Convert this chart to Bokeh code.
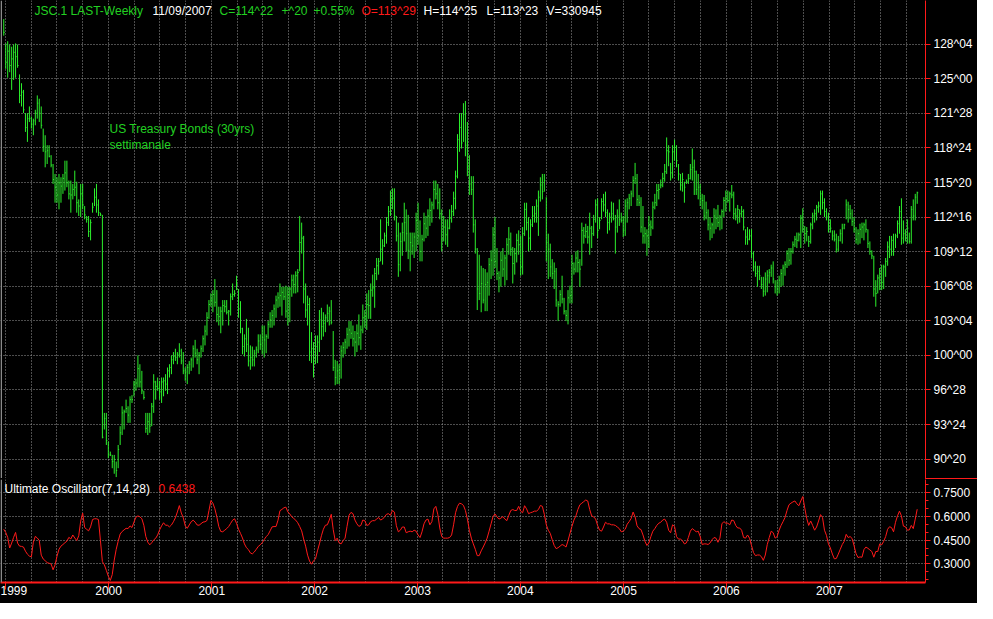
import pandas as pd
from bokeh.plotting import figure
from bokeh.layouts import column, row
from bokeh.models import Range1d, FixedTicker, Label, BoxAnnotation, Grid, ColumnDataSource, Spacer
from bokeh.embed import file_html
from bokeh.resources import INLINE

# ---------------- data (weekly bars, 25 Dec 1998 .. 9 Nov 2007) ----------------
high = [
130.4,128.2,128.4,128.1,127.9,128.1,128.2,128.1,125.4,124.6,
124.0,121.9,121.9,122.5,121.6,121.4,122.2,123.5,123.2,122.5,
120.5,119.9,119.0,119.0,118.1,117.3,116.4,116.1,116.4,116.1,
116.4,117.6,117.6,115.8,115.8,115.5,116.7,115.7,114.1,115.5,
115.5,113.5,112.6,112.6,112.3,113.8,115.1,115.5,114.1,112.9,
112.7,94.8,94.8,92.2,91.3,91.0,91.0,90.4,91.9,93.6,
95.4,95.1,96.0,95.4,96.3,96.4,97.7,97.9,100.0,99.2,
98.6,96.8,94.8,94.8,94.8,95.7,98.3,97.7,98.0,97.7,
98.0,98.0,98.3,98.9,99.2,100.0,100.3,100.6,100.3,101.1,
100.6,100.3,98.9,99.2,99.5,99.8,100.9,101.4,100.6,100.3,
100.9,101.8,102.7,103.9,105.0,105.6,105.9,106.9,105.9,104.4,
104.4,105.0,105.0,105.0,104.1,105.6,106.5,105.9,107.2,106.0,
104.9,102.5,101.9,103.3,102.5,100.9,100.8,100.5,100.8,101.9,
101.9,102.7,102.7,101.9,103.1,103.9,104.1,104.6,105.4,105.7,
106.5,106.2,106.2,106.3,106.2,106.2,107.3,107.3,107.6,107.8,
112.6,112.0,110.8,106.5,105.4,105.2,102.1,101.2,101.8,101.8,
104.1,104.3,103.9,103.7,104.6,104.4,105.0,102.2,99.6,99.5,
99.2,100.9,101.2,101.5,102.5,103.1,103.1,102.7,102.2,102.8,
103.7,102.7,104.6,104.1,105.6,105.9,106.5,107.3,107.9,108.8,
108.8,112.3,110.5,111.1,112.5,113.5,114.9,115.1,115.1,112.6,
112.0,111.1,112.0,113.8,113.2,112.7,111.1,111.1,111.1,112.9,
113.8,112.2,110.9,112.9,112.6,113.2,114.2,113.9,115.8,115.8,
115.5,115.1,113.2,112.6,112.3,112.3,113.2,113.6,114.8,116.7,
120.0,121.9,121.9,122.8,123.0,121.1,118.1,116.2,116.2,112.3,
109.7,109.1,108.1,107.9,107.8,107.5,108.8,109.5,111.6,112.5,
109.7,107.6,109.4,109.7,109.1,110.6,111.6,111.1,109.8,109.7,
111.0,111.3,110.8,111.6,113.8,113.8,112.5,112.3,113.5,113.5,
114.1,114.9,116.1,116.4,116.4,114.3,111.0,110.1,108.7,108.4,
107.9,104.9,105.9,107.2,105.2,104.1,105.9,106.3,109.1,108.4,
109.4,109.5,108.7,112.0,111.6,111.9,111.7,112.9,111.7,112.7,
114.1,114.2,112.5,114.2,114.6,114.8,113.2,112.9,113.9,113.8,
112.7,113.2,114.1,112.9,112.6,114.1,114.2,114.6,114.9,116.2,
117.4,116.4,114.5,114.3,113.5,111.6,111.4,112.6,112.2,113.9,
114.6,115.5,115.5,115.9,116.5,117.3,119.7,119.0,117.4,119.0,
119.5,119.0,117.3,116.4,116.5,115.7,115.9,116.4,117.3,118.7,
117.7,116.7,116.4,115.5,114.6,114.5,113.9,113.2,112.5,112.0,
113.3,113.2,113.6,112.7,113.2,114.3,114.9,114.9,114.8,115.4,
114.8,113.3,113.6,113.2,113.5,113.2,111.4,111.6,111.4,111.4,
109.4,108.5,108.1,108.1,107.1,107.1,107.5,107.7,107.8,108.2,
108.5,106.8,106.8,107.2,107.8,108.2,108.5,109.5,109.7,109.7,
110.3,110.8,111.1,111.1,112.7,113.3,111.7,111.6,110.8,112.0,
112.9,113.2,113.6,113.9,114.9,114.9,114.2,113.3,112.9,112.3,
111.3,111.3,111.0,110.8,111.4,111.9,111.9,114.1,113.9,113.6,
113.2,112.5,111.6,111.4,111.9,112.0,112.0,112.3,111.4,110.3,
109.5,109.0,106.8,107.3,107.9,108.2,108.2,108.8,110.3,110.8,
110.8,111.0,111.0,112.2,113.5,114.2,112.2,111.4,112.3,111.1,
113.5,114.1,114.6,114.8,
]

low = [
128.9,125.9,125.1,125.6,124.0,124.9,125.1,126.0,122.8,122.5,
121.9,120.2,119.3,121.1,120.5,119.9,120.8,121.4,121.1,120.5,
118.4,117.0,117.3,117.9,117.0,115.5,113.8,113.8,113.2,113.8,
114.6,114.9,115.2,114.1,112.9,114.1,114.4,112.9,112.6,112.5,
113.2,112.3,112.0,110.7,110.4,112.9,113.5,112.9,112.6,112.6,
92.5,93.3,91.9,90.7,90.9,89.8,89.3,89.0,89.8,91.9,
92.8,93.3,94.8,93.9,93.9,95.7,96.3,96.8,97.1,97.1,
96.5,96.0,93.0,92.8,93.0,93.6,94.8,96.0,96.8,96.0,
95.7,96.3,96.8,96.5,98.0,98.3,99.2,99.5,99.2,99.8,
99.2,98.3,97.7,97.4,98.3,98.6,98.9,99.8,99.2,98.3,
99.8,100.3,100.9,101.8,103.3,104.4,103.9,104.4,103.0,102.7,
102.0,102.7,103.9,103.7,102.7,103.6,105.0,105.3,105.9,103.4,
102.0,100.1,99.9,100.3,99.0,98.7,99.0,99.0,99.8,100.2,
100.5,100.1,99.8,100.2,101.5,102.5,102.5,102.7,103.4,104.3,
104.4,103.6,105.0,103.4,102.7,103.0,105.3,105.6,105.6,105.7,
107.6,109.2,104.7,103.4,102.7,99.5,99.3,98.0,99.2,99.3,
100.3,101.4,101.7,102.1,103.0,102.7,102.8,98.6,97.3,97.4,
97.4,97.9,99.8,100.1,100.6,100.8,101.5,100.8,99.9,100.3,
100.9,100.5,102.0,102.5,102.3,103.3,103.3,105.3,104.3,106.8,
107.3,108.5,108.2,109.8,110.1,111.7,112.6,113.2,112.2,110.3,
107.1,107.6,109.0,110.3,109.4,108.7,107.6,109.1,108.8,109.4,
110.0,108.5,108.5,110.3,110.6,110.8,111.7,112.0,113.2,114.1,
113.2,112.3,109.4,110.3,110.0,109.8,111.4,112.0,112.6,113.2,
116.0,118.4,118.7,119.3,118.0,116.2,114.5,114.5,111.1,109.2,
104.1,105.0,103.9,104.7,104.0,104.0,105.4,106.9,107.2,107.9,
106.8,105.7,106.2,107.1,106.3,106.8,109.1,109.0,106.5,107.3,
108.4,109.1,107.2,107.3,110.8,111.3,109.4,109.5,111.6,112.0,
112.0,110.8,113.9,114.1,114.8,108.5,106.9,107.1,106.9,106.0,
104.4,103.1,104.4,104.7,103.7,103.1,102.8,104.7,104.7,107.3,
107.5,107.5,106.2,108.1,110.1,110.6,110.1,109.1,109.7,110.8,
112.0,110.6,111.4,112.3,113.0,112.5,111.0,111.3,112.0,112.2,
109.2,111.1,111.7,112.0,110.7,110.8,112.0,113.2,113.5,114.3,
115.5,113.5,113.5,111.1,110.1,110.1,109.0,109.7,110.8,111.4,
113.2,113.5,114.1,115.1,115.2,115.7,116.4,117.1,115.8,116.0,
117.6,117.0,115.8,114.9,114.8,113.8,115.5,115.5,115.9,115.8,
114.5,114.5,114.1,113.5,113.2,112.2,112.3,111.3,110.4,110.6,
111.0,111.4,111.6,111.3,111.4,112.5,113.0,113.8,113.0,114.2,
112.3,112.2,111.9,112.0,112.5,111.3,110.0,110.0,110.4,108.8,
107.6,107.1,106.2,106.8,106.0,105.3,105.4,105.7,106.5,107.1,
106.5,105.6,105.4,105.6,106.2,106.3,107.2,107.9,108.1,108.2,
109.2,109.8,109.7,110.3,109.7,111.1,110.1,110.3,109.8,110.1,
111.4,112.0,112.2,112.9,112.7,113.2,112.5,112.2,111.1,111.1,
110.4,110.3,109.3,109.4,110.3,110.1,111.4,112.3,112.0,112.3,
111.7,111.1,110.1,110.0,110.1,110.6,110.4,111.1,109.7,109.1,
108.7,105.3,104.4,105.6,105.9,105.9,106.0,107.1,108.1,108.8,
109.0,109.0,109.7,110.6,111.0,110.0,110.1,110.3,110.1,110.1,
110.1,112.2,112.2,113.7,
]

close = [
129.2,126.5,127.5,126.2,126.8,127.4,127.0,126.2,123.5,123.8,
122.2,120.6,121.4,121.4,120.9,121.2,121.9,122.8,121.9,120.8,
118.9,118.4,118.5,118.0,117.2,115.9,115.2,114.5,115.6,115.3,
116.0,116.5,115.6,114.6,114.5,115.0,115.2,113.8,113.5,114.6,
113.6,112.7,112.3,111.2,112.0,113.4,114.3,113.6,112.9,112.7,
92.6,94.3,92.3,91.0,91.0,90.4,90.6,89.6,91.5,93.0,
94.8,94.9,95.2,94.6,96.0,96.0,97.4,97.5,98.8,97.6,
96.8,96.2,93.4,94.0,93.6,95.4,97.6,97.2,97.0,96.7,
97.6,97.7,97.4,98.6,98.9,99.6,99.9,99.8,100.1,100.4,
99.5,98.6,98.5,98.9,99.2,99.6,100.6,100.2,99.6,100.0,
100.6,101.5,102.2,103.4,104.6,105.0,105.5,104.8,103.7,103.5,
104.0,104.5,104.4,103.9,104.0,105.3,105.5,105.6,106.4,104.2,
102.4,100.8,101.5,101.0,99.5,99.8,99.6,100.2,100.5,101.3,
101.0,101.6,101.4,101.7,102.8,103.2,103.6,104.2,105.0,105.2,
105.4,105.7,105.3,104.0,105.5,106.0,106.8,106.4,107.2,107.5,
110.2,110.6,106.0,104.1,104.6,100.3,100.6,99.8,100.8,101.2,
103.2,102.6,102.9,103.4,103.8,104.0,103.0,98.9,98.0,98.6,
98.7,100.4,100.7,101.2,101.9,102.3,102.0,101.5,101.2,102.0,
101.6,102.3,103.4,103.5,104.6,104.5,105.9,106.1,107.4,108.1,
108.5,109.6,109.9,110.8,112.0,113.0,114.0,114.2,112.6,110.8,
108.2,110.3,111.1,112.0,111.0,109.5,110.2,109.9,110.7,112.2,
110.8,109.4,110.5,111.9,111.5,112.6,113.1,113.6,115.0,114.6,
113.8,112.8,110.5,111.6,110.9,111.5,112.4,113.0,114.2,116.2,
119.5,120.6,119.2,121.8,119.0,117.0,115.5,115.0,111.8,109.6,
106.0,105.6,106.5,105.0,106.4,106.6,108.2,108.6,110.9,108.5,
107.4,107.0,108.6,107.8,108.8,110.0,110.5,109.6,108.3,109.2,
110.4,110.0,108.0,111.0,113.2,112.0,110.6,111.8,112.6,112.8,
113.5,114.3,115.4,114.8,115.8,110.2,109.6,108.0,107.4,107.6,
105.0,104.6,105.5,105.1,104.0,103.6,105.2,105.4,108.3,107.8,
108.8,108.4,107.8,111.3,110.8,111.2,110.7,111.5,111.0,112.3,
113.6,111.3,112.2,113.9,113.6,112.9,112.0,112.5,112.8,112.4,
111.6,112.6,112.3,112.2,111.3,113.5,113.8,114.2,114.6,115.8,
116.0,114.1,113.8,111.6,110.8,111.0,110.8,111.8,111.6,113.4,
113.8,114.9,115.0,115.4,116.0,116.6,118.5,118.4,116.5,118.4,
118.8,117.6,116.4,115.4,115.9,115.2,115.7,116.0,116.8,117.0,
116.6,115.0,115.2,114.2,114.0,112.6,112.9,111.8,111.5,111.8,
112.6,112.4,112.0,112.5,113.0,114.0,114.2,114.0,114.6,114.5,
112.8,112.6,113.2,112.8,113.0,111.6,110.7,110.5,110.8,109.2,
108.0,107.4,107.6,107.2,106.4,105.8,106.9,107.2,107.5,107.9,
106.9,106.2,106.0,106.8,107.4,107.9,108.2,109.2,108.6,109.4,
110.0,110.5,110.4,110.9,112.4,111.4,111.0,111.2,110.3,111.8,
112.6,112.8,113.4,113.5,114.6,113.8,113.0,112.5,111.6,111.5,
110.8,110.5,109.6,110.4,111.0,111.5,111.8,113.6,113.2,112.8,
112.1,111.4,110.5,111.0,111.4,111.6,111.8,111.4,110.1,109.4,
109.0,106.0,105.6,107.0,107.4,106.6,108.0,108.5,109.8,109.6,
110.4,109.6,110.8,111.9,113.0,110.6,111.0,110.6,111.5,110.3,
113.2,112.6,114.3,114.7,
]

ult_osc = [
.518,.498,.467,.400,.431,.467,.498,.431,.412,.410,
.406,.380,.361,.349,.345,.437,.473,.463,.447,.355,
.331,.320,.308,.304,.300,.263,.294,.349,.392,.412,
.422,.433,.443,.467,.457,.482,.463,.447,.477,.569,
.620,.529,.518,.508,.533,.579,.584,.584,.579,.447,
.314,.294,.259,.222,.196,.233,.324,.392,.443,.488,
.504,.514,.524,.522,.539,.529,.563,.594,.602,.596,
.584,.543,.473,.437,.420,.433,.451,.461,.482,.514,
.539,.559,.543,.543,.533,.545,.565,.590,.627,.667,
.620,.590,.539,.524,.545,.565,.575,.563,.545,.543,
.553,.563,.565,.573,.635,.698,.682,.647,.596,.535,
.504,.502,.512,.522,.535,.555,.575,.584,.555,.518,
.492,.463,.426,.402,.390,.369,.363,.375,.392,.410,
.420,.433,.453,.471,.484,.508,.533,.535,.535,.575,
.635,.643,.653,.657,.627,.614,.596,.586,.575,.559,
.535,.508,.457,.412,.355,.318,.298,.320,.331,.382,
.426,.477,.518,.543,.546,.576,.612,.516,.446,.462,
.432,.426,.446,.462,.536,.606,.624,.616,.576,.552,
.536,.542,.576,.572,.542,.546,.566,.572,.572,.582,
.592,.576,.582,.596,.612,.616,.606,.636,.626,.540,
.502,.512,.532,.532,.496,.502,.506,.502,.512,.506,
.482,.466,.502,.552,.576,.582,.546,.566,.646,.662,
.612,.526,.472,.462,.462,.462,.466,.482,.546,.622,
.662,.682,.678,.668,.636,.582,.512,.462,.426,.392,
.352,.352,.382,.406,.432,.462,.506,.552,.598,.614,
.596,.582,.588,.598,.582,.572,.606,.636,.642,.636,
.636,.662,.632,.622,.666,.646,.616,.622,.626,.632,
.632,.642,.668,.662,.612,.546,.512,.492,.452,.416,
.396,.402,.412,.422,.416,.406,.446,.492,.536,.576,
.602,.642,.672,.682,.692,.702,.696,.642,.602,.596,
.582,.542,.512,.506,.532,.562,.552,.552,.546,.546,
.542,.532,.522,.502,.506,.518,.550,.566,.586,.626,
.596,.540,.522,.516,.482,.442,.416,.432,.472,.506,
.522,.542,.556,.562,.576,.582,.562,.512,.496,.546,
.536,.472,.456,.456,.446,.426,.432,.466,.506,.522,
.512,.502,.506,.472,.422,.426,.426,.422,.432,.452,
.466,.462,.436,.462,.552,.566,.556,.556,.546,.576,
.572,.542,.526,.526,.512,.466,.462,.482,.462,.416,
.372,.352,.356,.356,.346,.322,.356,.422,.466,.506,
.496,.462,.472,.512,.542,.566,.592,.636,.672,.682,
.690,.696,.678,.666,.696,.724,.652,.586,.542,.570,
.542,.512,.532,.570,.610,.592,.512,.480,.426,.400,
.362,.332,.334,.362,.392,.422,.442,.486,.466,.472,
.460,.414,.364,.340,.344,.342,.390,.406,.398,.388,
.378,.342,.378,.378,.426,.420,.442,.472,.518,.534,
.528,.502,.562,.602,.632,.602,.538,.534,.512,.514,
.542,.522,.582,.644,
]

price_ticks = [90.625, 93.75, 96.875, 100.0, 103.125, 106.25, 109.375,
               112.5, 115.625, 118.75, 121.875, 125.0, 128.125]
price_labels = ["90^20", "93^24", "96^28", "100^00", "103^04", "106^08", "109^12",
                "112^16", "115^20", "118^24", "121^28", "125^00", "128^04"]
osc_ticks = [0.30, 0.45, 0.60, 0.75]
osc_labels = ["0.3000", "0.4500", "0.6000", "0.7500"]
osc_minor = [0.20, 0.25, 0.35, 0.40, 0.50, 0.55, 0.65, 0.70, 0.80]
years = ["1999", "2000", "2001", "2002", "2003", "2004", "2005", "2006", "2007"]

assert len(high) == len(low) == len(close) == len(ult_osc) == 464

# ---------------- styling ----------------
GREEN = "#2cf02c"
TEXTGREEN = "#22d022"
RED = "#ff1a1a"
GRID = "#9a9a9a"
FONT = "Liberation Sans"
WEEK = 7 * 86400000.0

dates = pd.date_range(end="2007-11-09", periods=len(high), freq="7D")
t = (dates.values.astype("datetime64[ms]").astype("int64")).astype(float)
src = ColumnDataSource(dict(t=t, t2=t + 0.5 * WEEK, high=high, low=low, close=close, osc=ult_osc))

x_range = Range1d(t[0] - 1.65 * WEEK, t[0] + 467.2 * WEEK)

def ms(s):
    return float(pd.Timestamp(s).value // 10**6)

year_ticks = [ms(f"{y}-01-01") for y in years]
quarter_ticks = [float(v) for v in (pd.date_range("1999-01-01", "2007-10-01", freq="QS")
                                    .values.astype("datetime64[ms]").astype("int64"))]

W = 977
RB = 52
FH1 = 478
FH2 = 103

def base(p):
    p.background_fill_color = "black"
    p.border_fill_color = "black"
    p.outline_line_color = None
    p.styles = {"background-color": "black"}

def style_xgrid(p):
    xg = [g for g in p.center if isinstance(g, Grid) and g.dimension == 0]
    if not xg:
        g = Grid(dimension=0)
        p.add_layout(g)
        xg = [g]
    for g in xg:
        g.ticker = FixedTicker(ticks=quarter_ticks)
        g.grid_line_color = GRID
        g.grid_line_dash = "1 2"
        g.grid_line_width = 1

def left_edge(p):
    p.add_layout(BoxAnnotation(left=0, right=1.5, left_units="screen", right_units="screen",
                               fill_color="#8a8a8a", fill_alpha=1, line_color=None))

# ---------------- price panel ----------------
p1 = figure(width=W, height=FH1, x_range=x_range, y_range=Range1d(88.87, 132.08),
            x_axis_location=None, y_axis_location="right", toolbar_location=None,
            output_backend="svg", min_border_left=0, min_border_right=RB,
            min_border_top=0, min_border_bottom=0)
base(p1)
style_xgrid(p1)
left_edge(p1)
ya = p1.yaxis[0]
ya.ticker = FixedTicker(ticks=price_ticks)
ya.major_label_overrides = {v: s for v, s in zip(price_ticks, price_labels)}
ya.axis_line_color = RED
ya.major_tick_line_color = RED
ya.minor_tick_line_color = None
ya.major_tick_out = 5
ya.major_tick_in = 0
ya.major_label_standoff = 3
ya.major_label_text_color = "white"
ya.major_label_text_font = FONT
ya.major_label_text_font_size = "12px"
p1.ygrid.grid_line_color = GRID
p1.ygrid.grid_line_dash = "1 2"

p1.segment(x0="t", y0="low", x1="t", y1="high", source=src, line_color=GREEN, line_width=1)
p1.segment(x0="t", y0="close", x1="t2", y1="close", source=src, line_color=GREEN, line_width=1)

header = [("JSC.1 LAST-Weekly", 34, TEXTGREEN), ("11/09/2007", 152, "white"),
          ("C=114^22", 219, TEXTGREEN), ("+^20", 281, TEXTGREEN), ("+0.55%", 313, TEXTGREEN),
          ("O=113^29", 361, RED), ("H=114^25", 423, "white"), ("L=113^23", 486, "white"),
          ("V=330945", 546, "white")]
for txt, x, col in header:
    p1.add_layout(Label(x=x, y=FH1 - 10, x_units="screen", y_units="screen", text=txt,
                        text_color=col, text_font=FONT, text_font_size="12px",
                        text_baseline="middle"))
p1.add_layout(Label(x=109, y=FH1 - 128, x_units="screen", y_units="screen",
                    text="US Treasury Bonds (30yrs)", text_color=TEXTGREEN, text_font=FONT,
                    text_font_size="12px", text_baseline="middle"))
p1.add_layout(Label(x=109, y=FH1 - 144, x_units="screen", y_units="screen",
                    text="settimanale", text_color=TEXTGREEN, text_font=FONT,
                    text_font_size="12px", text_baseline="middle"))

# ---------------- separator (red only under the price scale) ----------------
sep = row(Spacer(width=W - RB, height=1, styles={"background-color": "black"}),
          Spacer(width=RB, height=1, styles={"background-color": RED}), spacing=0)

# ---------------- oscillator panel ----------------
p2 = figure(width=W, height=124, x_range=x_range, y_range=Range1d(0.183, 0.831),
            y_axis_location="right", toolbar_location=None, output_backend="svg",
            min_border_left=0, min_border_right=RB, min_border_top=0, min_border_bottom=21)
base(p2)
style_xgrid(p2)
left_edge(p2)
xa = p2.xaxis[0]
xa.ticker = FixedTicker(ticks=year_ticks)
xa.major_label_overrides = {v: s for v, s in zip(year_ticks, years)}
xa.major_label_text_align = "left"
xa.axis_line_color = RED
xa.axis_line_width = 2
xa.major_tick_line_color = RED
xa.minor_tick_line_color = None
xa.major_tick_out = 7
xa.major_tick_in = 0
xa.major_label_standoff = -4
xa.major_label_text_color = "white"
xa.major_label_text_font = FONT
xa.major_label_text_font_size = "12px"

oa = p2.yaxis[0]
oa.ticker = FixedTicker(ticks=osc_ticks, minor_ticks=osc_minor)
oa.major_label_overrides = {v: s for v, s in zip(osc_ticks, osc_labels)}
oa.axis_line_color = RED
oa.major_tick_line_color = RED
oa.minor_tick_line_color = RED
oa.major_tick_out = 5
oa.major_tick_in = 0
oa.minor_tick_out = 3
oa.minor_tick_in = 0
oa.major_label_standoff = 3
oa.major_label_text_color = "white"
oa.major_label_text_font = FONT
oa.major_label_text_font_size = "12px"
p2.ygrid.grid_line_color = GRID
p2.ygrid.grid_line_dash = "1 2"

p2.line(x="t", y="osc", source=src, line_color=RED, line_width=1)

p2.add_layout(Label(x=4, y=FH2 - 9, x_units="screen", y_units="screen",
                    text="Ultimate Oscillator(7,14,28)", text_color="white", text_font=FONT,
                    text_font_size="12px", text_baseline="middle"))
p2.add_layout(Label(x=158, y=FH2 - 9, x_units="screen", y_units="screen",
                    text="0.6438", text_color=RED, text_font=FONT,
                    text_font_size="12px", text_baseline="middle"))

layout = column(p1, sep, p2, spacing=0, styles={"background-color": "black"})
open("out.html", "w").write(file_html(layout, INLINE))
